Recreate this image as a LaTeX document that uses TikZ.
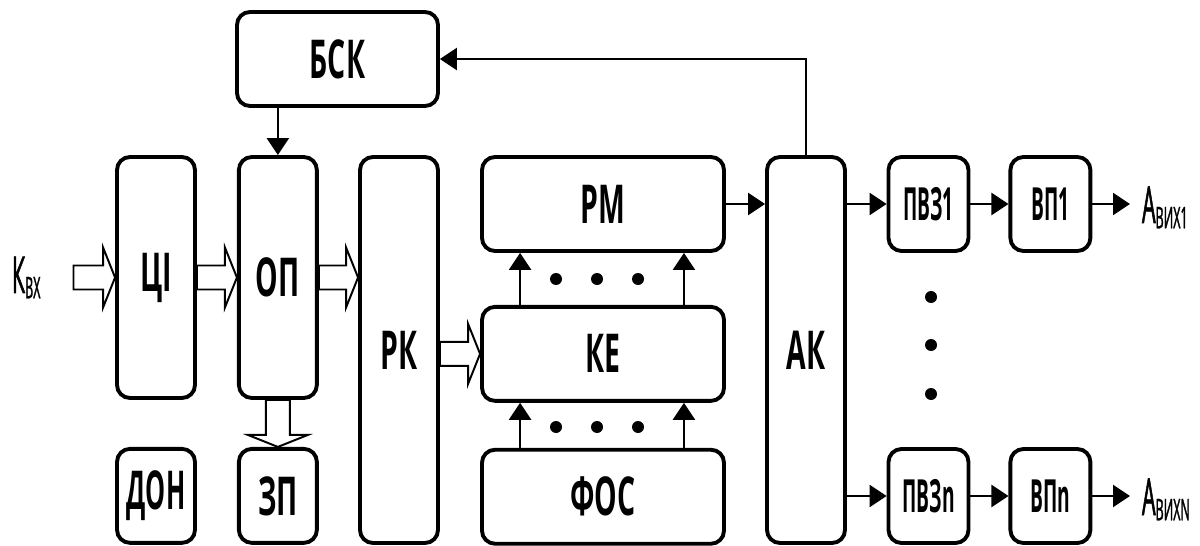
\documentclass[tikz,border=0pt]{standalone}
\usepackage{fontspec}
\usetikzlibrary{positioning, arrows.meta, calc}
\newfontfamily\boxfont{Open Sans}[FakeStretch=0.53]
\newfontfamily\tightfont{Open Sans}[FakeStretch=0.47]
\newfontfamily\narrowfont{Open Sans}[FakeStretch=0.42]
\newfontfamily\labelfont{Open Sans}[FakeStretch=0.42, FakeBold=1]
\tikzset{
  unit/.style      ={draw, rounded corners=0.26cm, line width=2.2pt,
                     align=center, inner sep=0pt,
                     font={\boxfont\bfseries\fontsize{30.5}{34}\selectfont}},
  tallunit/.style  ={unit, minimum width=1.56cm, minimum height=4.82cm},
  longunit/.style  ={unit, minimum width=1.56cm, minimum height=7.72cm},
  lowunit/.style   ={unit, minimum width=1.56cm, minimum height=1.88cm},
  wideunit/.style  ={unit, minimum width=4.84cm, minimum height=1.88cm},
  smallunit/.style ={unit, minimum width=1.6cm, minimum height=1.88cm,
                     font={\narrowfont\bfseries\fontsize{26}{30}\selectfont}},
  sig/.style       ={inner ysep=0pt, outer sep=0pt, anchor=base west,
                     font={\labelfont\fontsize{29}{32}\selectfont}},
  flow/.style      ={-{Triangle[length=0.34cm, width=0.44cm]}, line width=1.4pt},
  bus/.style       ={draw, fill=white, line width=1.1pt, line join=miter,
                     to path={($(\tikztostart)!0.24cm!90:(\tikztotarget)$)
                       -- ($(\tikztotarget)!0.3394cm!-45:(\tikztostart)$)
                       -- ($(\tikztotarget)!0.6462cm!-68.2:(\tikztostart)$)
                       -- (\tikztotarget)
                       -- ($(\tikztotarget)!0.6462cm!68.2:(\tikztostart)$)
                       -- ($(\tikztotarget)!0.3394cm!45:(\tikztostart)$)
                       -- ($(\tikztostart)!0.24cm!-90:(\tikztotarget)$)
                       -- cycle}},
}
\newcommand{\lowidx}[1]{\raisebox{-3pt}{\fontsize{17}{17}\selectfont #1}}

\begin{document}
\begin{tikzpicture}
  \useasboundingbox (0,0) rectangle (24,-10.92);

  % ============================================================
  % INPUT SIDE (left columns)
  % ============================================================
  \node[tallunit] (ci) at (3.12,-5.55) {ЦІ};
  \node[tallunit, right=0.8cm of ci] (op) {ОП};
  \node[lowunit, below=0.94cm of ci,
        font={\tightfont\bfseries\fontsize{30.5}{34}\selectfont}] (don) {ДОН};
  \node[lowunit, below=0.94cm of op] (zp) {ЗП};
  \node[unit, minimum width=4.02cm, minimum height=1.88cm] (bsk) at (6.75,-1.18) {БСК};
  \node[longunit] (rk) at (7.98,-7.0) {РК};

  \node[sig, inner xsep=0pt] (kin) at (0.24,-5.86) {К\lowidx{ВХ}};

  % ============================================================
  % CORE (middle column)
  % ============================================================
  \node[wideunit] (rm) at (12.06,-4.08) {РМ};
  \node[wideunit, below=1.04cm of rm] (ke) {КЕ};
  \node[wideunit, below=0.9cm of ke] (fos) {ФОС};
  \node[longunit] (ak) at (16.12,-7.0) {АК};

  % ============================================================
  % OUTPUT CHANNELS (right columns)
  % ============================================================
  \node[smallunit] (pvz1) at (18.57,-4.08) {ПВЗ1};
  \node[smallunit, right=0.76cm of pvz1] (vp1) {ВП1};
  \node[smallunit] (pvzn) at (18.57,-9.92) {ПВЗn};
  \node[smallunit, right=0.76cm of pvzn] (vpn) {ВПn};

  \node[sig, inner xsep=0.24cm] (aout1) at (22.6,-4.46) {А\lowidx{ВИХ1}};
  \node[sig, inner xsep=0.24cm] (aoutn) at (22.6,-10.3) {А\lowidx{ВИХN}};

  % --- hollow bus arrows ---
  \draw[bus] ([xshift=0.66cm]kin.east |- ci.west) to (ci.west);
  \draw[bus] (ci.east) to (op.west);
  \draw[bus] (op.east) to (op.east -| rk.west);
  \draw[bus] (ke.west -| rk.east) to (ke.west);
  \draw[bus] (op.south) to (zp.north);

  % --- control / data arrows ---
  \draw[flow] (op.north |- bsk.south) -- (op.north);
  \draw[flow] (ak.north) |- (bsk.east);
  \draw[flow] (rm.east) -- (rm.east -| ak.west);
  \draw[flow] ([xshift=0.8cm]ke.north west) -- ([xshift=0.8cm]rm.south west);
  \draw[flow] ([xshift=-0.84cm]ke.north east) -- ([xshift=-0.84cm]rm.south east);
  \draw[flow] ([xshift=0.8cm]fos.north west) -- ([xshift=0.8cm]ke.south west);
  \draw[flow] ([xshift=-0.84cm]fos.north east) -- ([xshift=-0.84cm]ke.south east);

  \draw[flow] (ak.east |- pvz1.west) -- (pvz1.west);
  \draw[flow] (pvz1) -- (vp1);
  \draw[flow] (vp1.east) -- (vp1.east -| aout1.west);
  \draw[flow] (ak.east |- pvzn.west) -- (pvzn.west);
  \draw[flow] (pvzn) -- (vpn);
  \draw[flow] (vpn.east) -- (vpn.east -| aoutn.west);

  % --- ellipsis dots ---
  \foreach \px in {11.12, 11.94, 12.76} {
    \fill (\px,-5.58) circle (0.12);
    \fill (\px,-8.54) circle (0.12);
  }
  \foreach \py in {-5.94, -6.9, -7.88}
    \fill (18.62,\py) circle (0.12);

\end{tikzpicture}
\end{document}
